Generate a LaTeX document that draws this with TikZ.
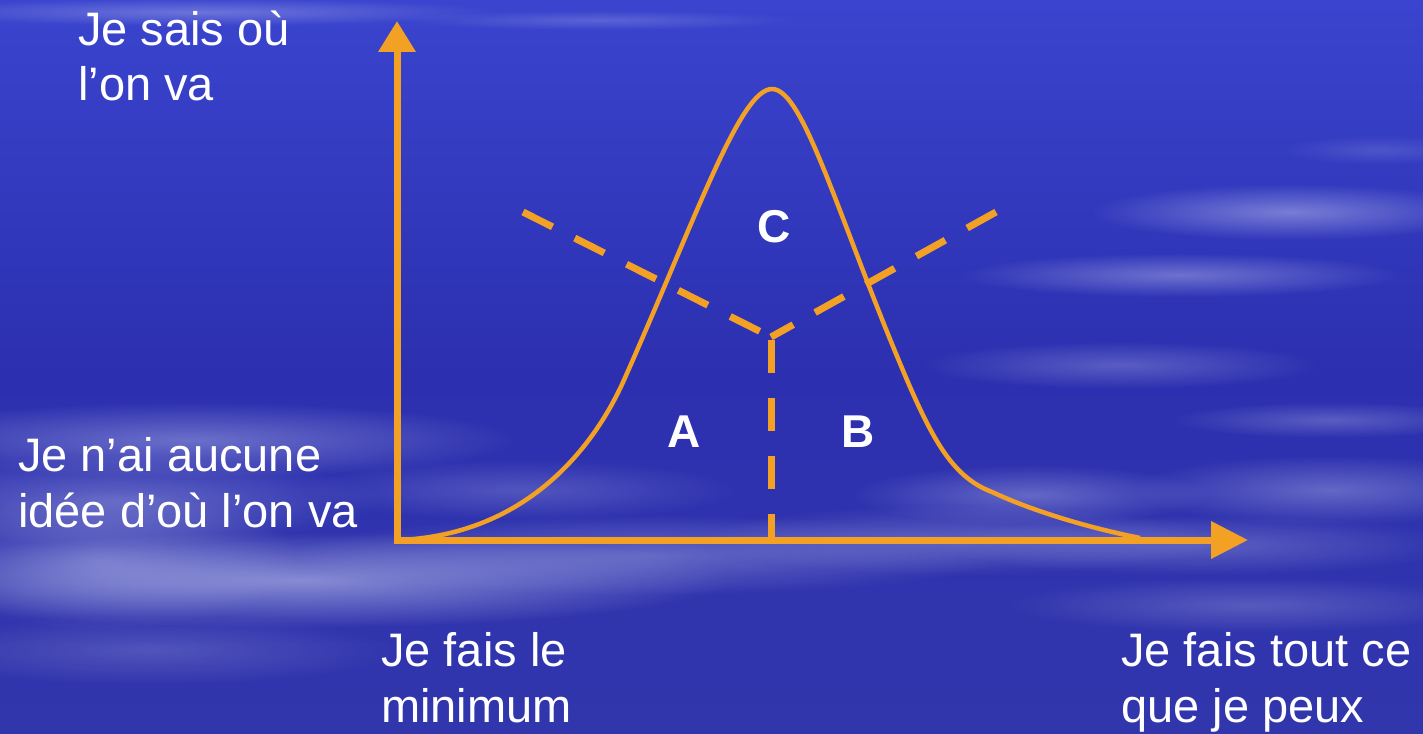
\documentclass[tikz,border=0pt]{standalone}
\usepackage{fontspec}
\setmainfont{Liberation Sans}
\usetikzlibrary{arrows.meta,fadings}
\definecolor{bgtop}{RGB}{58,68,206}
\definecolor{bgmid}{RGB}{44,48,176}
\definecolor{bgbot}{RGB}{50,54,172}
\definecolor{org}{RGB}{242,161,37}
\definecolor{cloudc}{RGB}{225,228,250}
\tikzfading[name=fuzzy, inner color=transparent!0, outer color=transparent!100]
\tikzset{
  cl/.style={fill=cloudc, path fading=fuzzy, opacity=#1},
  axis/.style={draw=org, line width=7pt, {Triangle[length=31pt,width=36pt]}-{Triangle[length=37pt,width=36pt]}},
  curve/.style={draw=org, line width=4.5pt},
  dsh/.style={draw=org, line width=7pt, dash pattern=on 33pt off 25pt},
  lbl/.style={anchor=base west, inner sep=0pt, text=white, font=\fontsize{47}{56}\selectfont},
  let/.style={inner sep=0pt, text=white, font=\fontsize{46}{52}\selectfont\bfseries}
}
\begin{document}
\begin{tikzpicture}[x=1pt,y=-1pt]
\useasboundingbox (0,0) rectangle (1423,733);
% background
\shade[top color=bgtop, bottom color=bgbot, middle color=bgmid] (0,0) rectangle (1423,733);
% clouds
\fill[cl=0.3] (200,12) ellipse (300pt and 14pt);
\fill[cl=0.2] (600,20) ellipse (200pt and 10pt);
% left
\fill[cl=0.35] (190,440) ellipse (330pt and 38pt);
\fill[cl=0.3] (120,500) ellipse (260pt and 45pt);
\fill[cl=0.5] (300,580) ellipse (430pt and 48pt);
\fill[cl=0.3] (100,560) ellipse (200pt and 70pt);
\fill[cl=0.3] (650,555) ellipse (360pt and 40pt);
\fill[cl=0.2] (520,490) ellipse (220pt and 30pt);
\fill[cl=0.18] (150,650) ellipse (250pt and 35pt);
% centre/right bottom
\fill[cl=0.25] (960,540) ellipse (260pt and 35pt);
\fill[cl=0.3] (1030,495) ellipse (180pt and 30pt);
\fill[cl=0.3] (1330,490) ellipse (200pt and 35pt);
\fill[cl=0.25] (1200,545) ellipse (260pt and 30pt);
\fill[cl=0.22] (1250,605) ellipse (250pt and 28pt);
% right upper
\fill[cl=0.4] (1290,212) ellipse (200pt and 28pt);
\fill[cl=0.35] (1180,275) ellipse (220pt and 22pt);
\fill[cl=0.25] (1120,365) ellipse (200pt and 24pt);
\fill[cl=0.25] (1330,420) ellipse (160pt and 18pt);
\fill[cl=0.15] (1380,150) ellipse (100pt and 15pt);
% key points
\coordinate (O) at (397,540);
\coordinate (Ytip) at (397,21);
\coordinate (Xtip) at (1248,540);
\coordinate (M) at (771,337);
\coordinate (L) at (523,212);
\coordinate (R) at (996,212);
\coordinate (c0) at (400,540);
\coordinate (c1) at (624,380);
\coordinate (c2) at (772,89);
\coordinate (c3) at (907,380);
\coordinate (c4) at (992,492);
\coordinate (c5) at (1140,538);
% curve
\draw[curve] (c0) .. controls (530,534) and (596,443) .. (c1)
  .. controls (696,218) and (740,89) .. (c2)
  .. controls (804,89) and (838,218) .. (c3)
  .. controls (935,445) and (955,478) .. (c4)
  .. controls (1035,512) and (1090,528) .. (c5);
% dashed lines
\draw[dsh] (L) -- (M);
\draw[dsh] (R) -- (M);
\draw[dsh] ([yshift=-3pt]M) -- (M |- O);
% axes
\draw[axis] (Ytip) -- (O) -- (Xtip);
% letters
\node[let] (C) at (774,227) {C};
\node[let] (A) at (684,432) {A};
\node[let] (B) at (858,432) {B};
% labels
\node[lbl] (t1a) at (78,46) {Je sais où};
\node[lbl] (t1b) at (78,101) {l’on va};
\node[lbl] (t2a) at (18,471) {Je n’ai aucune};
\node[lbl] (t2b) at (18,527) {idée d’où l’on va};
\node[lbl] (t3a) at (381,666) {Je fais le};
\node[lbl] (t3b) at (381,722) {minimum};
\node[lbl] (t4a) at (1121,666) {Je fais tout ce};
\node[lbl] (t4b) at (1121,722) {que je peux};
\end{tikzpicture}
\end{document}
